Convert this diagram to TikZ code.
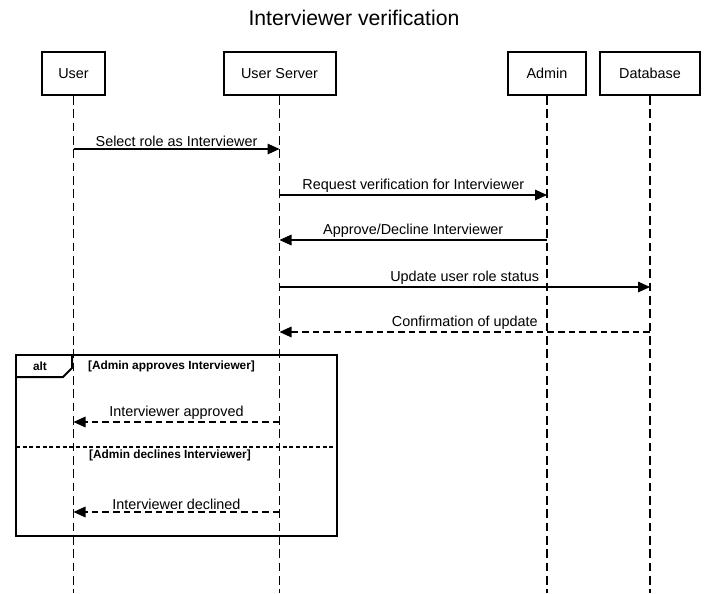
\documentclass[tikz,border=0pt]{standalone}
\usepackage{fontspec}
\setmainfont{Liberation Sans}
\usetikzlibrary{arrows.meta,positioning}
\tikzset{
  actorbox/.style={draw, line width=1.5pt, minimum height=32pt, inner sep=0pt,
    font=\fontsize{10.8}{13}\selectfont},
  lifeline/.style={line width=0.8pt, dash pattern=on 6.5pt off 3.5pt},
  msgarrow/.style={-{Triangle[length=9pt, width=8pt]}, line width=0.8pt},
  replyarrow/.style={msgarrow, dash pattern=on 5pt off 3pt},
  msglabel/.style={above, inner sep=1.5pt, font=\fontsize{10.8}{13}\selectfont},
  guardtext/.style={font=\fontsize{8.9}{10}\selectfont\bfseries, inner sep=0pt}
}

\begin{document}
\begin{tikzpicture}[x=0.75pt, y=-0.75pt]
  \useasboundingbox (0,0) rectangle (707,593);
  \node[font=\fontsize{15.9}{19}\selectfont] (title) at (354,18) {Interviewer verification};

  % participants
  \node[actorbox, minimum width=47pt] (user) at (73.5,73.5) {User};
  \node[actorbox, minimum width=84pt] (server) at (279.5,73.5) {User Server};
  \node[actorbox, minimum width=58.5pt] (admin) at (547,73.5) {Admin};
  \node[actorbox, minimum width=75pt] (db) at (650,73.5) {Database};

  % lifelines
  \foreach \p in {user,server,admin,db} {
    \coordinate (\p end) at (\p.south |- 0,593);
    \draw[lifeline] (\p.south) -- (\p end);
  }

  % messages
  \coordinate (m1) at (0,149);
  \coordinate (m2) at (0,195);
  \coordinate (m3) at (0,240);
  \coordinate (m4) at (0,287);
  \coordinate (m5) at (0,332);
  \coordinate (m6) at (0,422);
  \coordinate (m7) at (0,512);
  \draw[msgarrow] (user |- m1) -- (server |- m1)
    node[msglabel, midway] {Select role as Interviewer};
  \draw[msgarrow] (server |- m2) -- (admin |- m2)
    node[msglabel, midway] {Request verification for Interviewer};
  \draw[msgarrow] (admin |- m3) -- (server |- m3)
    node[msglabel, midway] {Approve/Decline Interviewer};
  \draw[msgarrow] (server |- m4) -- (db |- m4)
    node[msglabel, midway] {Update user role status};
  \draw[replyarrow] (db |- m5) -- (server |- m5)
    node[msglabel, midway] {Confirmation of update};

  % alt fragment
  \draw[line width=1.5pt] (16,355) rectangle (337,536);
  \draw[line width=1.5pt] (16,377) -- (63,377) -- (72,368) -- (72,355);
  \node[font=\fontsize{8.9}{10}\selectfont\bfseries] (alt) at (40,366) {alt};
  \node[guardtext] (g1) at (171.5,366) {[Admin approves Interviewer]};
  \draw[line width=1.2pt, dash pattern=on 3pt off 2pt] (16,447) -- (337,447);
  \node[guardtext] (g2) at (170,455) {[Admin declines Interviewer]};
  \draw[replyarrow] (server |- m6) -- (user |- m6)
    node[msglabel, midway] {Interviewer approved};
  \draw[replyarrow] (server |- m7) -- (user |- m7)
    node[msglabel, midway] {Interviewer declined};
\end{tikzpicture}
\end{document}
